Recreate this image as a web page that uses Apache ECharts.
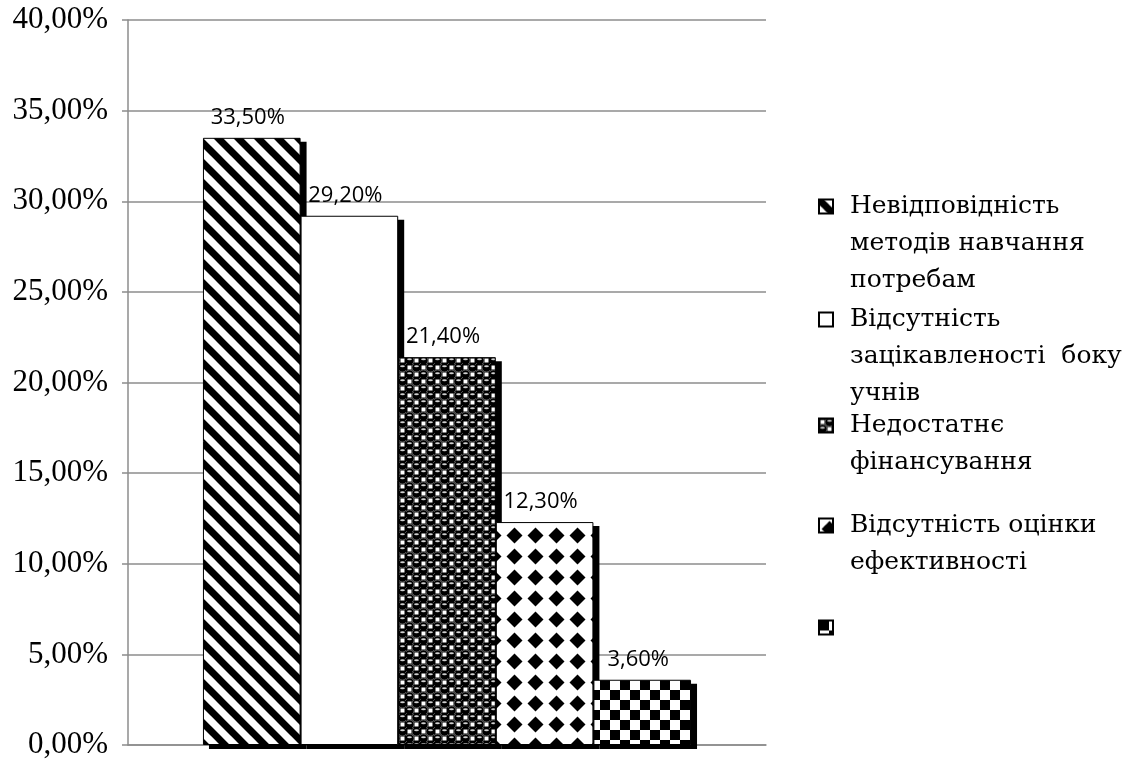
<!DOCTYPE html>
<html>
<head>
<meta charset="utf-8">
<script src="https://cdn.jsdelivr.net/npm/echarts@6/dist/echarts.min.js"></script>
<style>html,body{margin:0;padding:0;background:#fff}#c{width:1129px;height:764px}</style>
</head>
<body>
<div id="c"></div>
<script>
var category = [''];
var seriesNames = [
  'Невідповідність\nметодів навчання\nпотребам',
  'Відсутність\nзацікавленості  боку\nучнів',
  'Недостатнє\nфінансування',
  'Відсутність оцінки\nефективності',
  ' '
];
var seriesValues = [33.5, 29.2, 21.4, 12.3, 3.6];
var yTicks = [0, 5, 10, 15, 20, 25, 30, 35, 40];

var SERIF = '"Liberation Serif", "Times New Roman", serif';
var SERIF_CYR = '"DejaVu Serif", serif';

function tile(w, h, draw) {
  var c = document.createElement('canvas');
  c.width = w; c.height = h;
  var g = c.getContext('2d');
  g.fillStyle = '#fff'; g.fillRect(0, 0, w, h);
  g.fillStyle = '#000'; g.strokeStyle = '#000';
  draw(g, w, h);
  return c;
}
var pStripes = tile(20, 20, function (g) {
  g.lineWidth = 7; g.lineCap = 'square';
  for (var x = -40; x <= 40; x += 20) {
    g.beginPath(); g.moveTo(x, 0); g.lineTo(x + 20, 20); g.stroke();
  }
});
var pSpheres = tile(14, 14, function (g) {
  g.fillRect(0, 0, 14, 14);
  g.fillStyle = '#fff';
  g.fillRect(1.5, 1.5, 4, 4); g.fillRect(8.5, 8.5, 4, 4);
  g.fillStyle = '#cfcfcf';
  [[10.5, 2.2], [3.5, 9.2]].forEach(function (p) {
    g.beginPath(); g.ellipse(p[0], p[1], 2.4, 1.0, 0, 0, Math.PI * 2); g.fill();
  });
  g.strokeStyle = '#888'; g.lineWidth = 0.8;
  [[10.5, 3.5], [3.5, 10.5]].forEach(function (p) {
    g.beginPath(); g.arc(p[0], p[1], 4.6, 0, Math.PI * 2); g.stroke();
  });
});
var pDiamonds = tile(21, 21, function (g) {
  g.beginPath();
  g.moveTo(10.5, 2.5); g.lineTo(18.5, 10.5); g.lineTo(10.5, 18.5); g.lineTo(2.5, 10.5); g.closePath(); g.fill();
});
var pChecker = tile(20, 20, function (g) {
  g.fillRect(0, 0, 10, 10); g.fillRect(10, 10, 10, 10);
});
var fills = [
  { image: pStripes, repeat: 'repeat' },
  '#ffffff',
  { image: pSpheres, repeat: 'repeat' },
  { image: pDiamonds, repeat: 'repeat' },
  { image: pChecker, repeat: 'repeat' }
];

function pct(v) { return v.toFixed(2).replace('.', ',') + '%'; }

var legendTops = [114, 227, 370, 470, 609];
var LH = 37;
var CAT_GAP = 0.235;

function legendText(name) {
  var lines = name.split('\n');
  var out = [];
  for (var k = 0; k < lines.length - 1; k++) out.push('{t| }');
  lines.forEach(function (l) { out.push('{t|' + l + '}'); });
  return out.join('\n');
}

var chart = echarts.init(document.getElementById('c'), null, { renderer: 'canvas' });
chart.setOption({
  animation: false,
  backgroundColor: '#fff',
  textStyle: { fontFamily: SERIF },
  grid: { left: 128, right: 363, top: 20, bottom: 19, containLabel: false },
  legend: seriesNames.map(function (n, i) {
    return {
      data: [n], orient: 'vertical', left: 818, top: legendTops[i], padding: 0,
      itemWidth: 14, itemHeight: 14, itemGap: 0, icon: 'rect',
      selectedMode: false,
      formatter: legendText,
      textStyle: {
        fontFamily: SERIF_CYR, fontSize: 25, color: '#000', lineHeight: LH,
        rich: { t: { fontFamily: SERIF_CYR, fontSize: 25, color: '#000', lineHeight: LH, padding: [0, 0, 0, 12] } }
      }
    };
  }),
  xAxis: {
    type: 'category', data: category,
    axisLine: { lineStyle: { color: '#8c8c8c', width: 1.5 } },
    axisTick: { show: false }, axisLabel: { show: false }
  },
  yAxis: {
    type: 'value', min: yTicks[0], max: yTicks[yTicks.length - 1], interval: 5,
    axisLine: { show: true, lineStyle: { color: '#8c8c8c', width: 1.5 } },
    axisTick: { show: true, length: 6, lineStyle: { color: '#8c8c8c', width: 1.5 } },
    splitLine: { lineStyle: { color: '#8c8c8c', width: 1.5 } },
    axisLabel: {
      margin: 20, fontFamily: SERIF, fontSize: 31, color: '#000',
      formatter: function (v) { return pct(v); }
    }
  },
  series: [{
    type: 'custom', name: 'shadow', silent: true, z: 1,
    encode: { x: 0, y: 1 },
    data: seriesValues.map(function (v) { return [0, v]; }),
    renderItem: function (params, api) {
      var i = params.dataIndex;
      var v = api.value(1);
      var base = api.coord([0, 0]);
      var top = api.coord([0, v]);
      var cw = api.size([1, 0])[0];
      var gw = cw * (1 - CAT_GAP);
      var bw = gw / seriesValues.length;
      var x = base[0] - gw / 2 + i * bw;
      return {
        type: 'rect',
        shape: { x: x + 6, y: top[1] + 4, width: bw, height: base[1] - top[1] },
        style: { fill: '#000' }
      };
    }
  }].concat(seriesNames.map(function (n, i) {
    return {
      type: 'bar', name: n, data: [seriesValues[i]], z: 2,
      barGap: '0%', barCategoryGap: (CAT_GAP * 100) + '%',
      itemStyle: { color: fills[i], borderColor: '#000', borderWidth: 1 },
      label: {
        show: true, position: 'top', distance: 9, offset: [-4, 0],
        fontFamily: 'Open Sans', fontSize: 22, color: '#000',
        formatter: function (p) { return pct(p.value); }
      }
    };
  }))
});
</script>
</body>
</html>
